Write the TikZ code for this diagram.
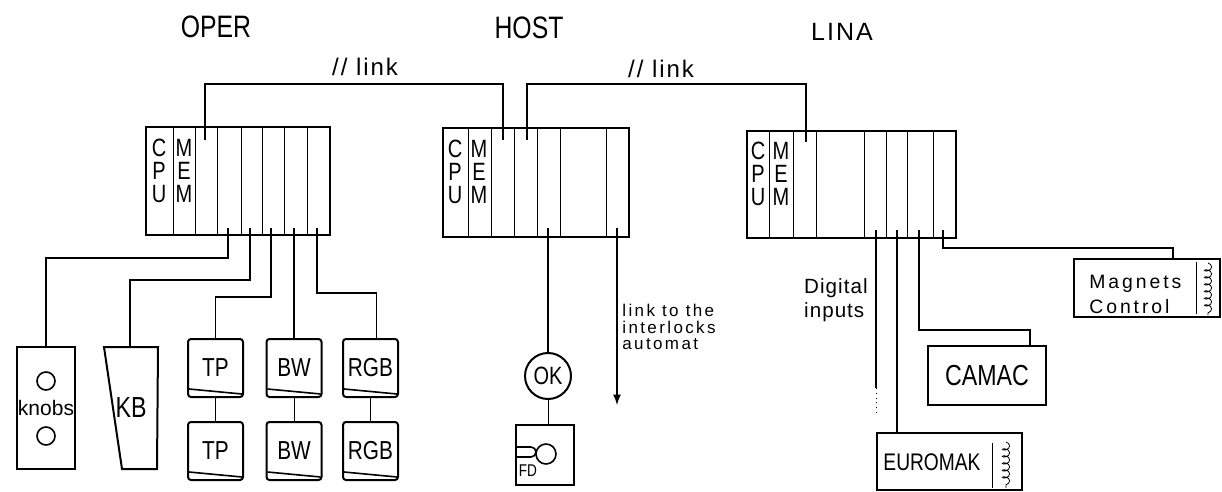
\documentclass[tikz,border=0pt]{standalone}
\usepackage{fontspec}
\setmainfont{Liberation Sans}
\newfontfamily\condfont{Liberation Sans}[FakeStretch=0.8]
\usetikzlibrary{decorations.pathmorphing}

\tikzset{
	ttl/.style={font=\condfont\fontsize{15.5}{18}\selectfont},
	linkl/.style={font=\fontsize{12}{14}\selectfont\addfontfeature{LetterSpace=8}},
	rackbox/.style={draw, line width=1pt},
	bus/.style={line width=1pt},
	wire/.style={line width=0.8pt},
	slotl/.style={align=center, inner sep=0pt, font=\condfont\fontsize{12.5}{11.5}\selectfont},
	devbox/.style={draw, line width=1pt, inner sep=0pt},
	monitor/.style={devbox, rounded corners=1.5pt, minimum width=27.5pt, minimum height=29pt,
		font=\condfont\fontsize{13}{15}\selectfont,
		path picture={\draw[line width=0.8pt] ([xshift=0.5pt,yshift=4pt]path picture bounding box.south west)
			.. controls ([yshift=2.5pt]path picture bounding box.south) .. ([xshift=-0.5pt,yshift=1.5pt]path picture bounding box.south east);}},
	coilmark/.style={decorate, decoration={coil, aspect=0.6, segment length=3.5pt, amplitude=1.8pt}}
}

\begin{document}
\begin{tikzpicture}[x=0.5pt, y=-0.5pt]
			\useasboundingbox (0,0) rectangle (1222,492); %picture size in pixels
			
			\node[ttl] (operT) at (216,27) {OPER};
			\node[ttl] (hostT) at (529,28) {HOST};
			\node[font=\fontsize{12.5}{14}\selectfont\addfontfeature{LetterSpace=8}] (linaT) at (842,32) {LINA};
			\node[linkl] (link1) at (365,67) {// link};
			\node[linkl] (link2) at (661,69) {// link};
			
			%the three racks with their slots
			\draw[rackbox] (146,127) rectangle (330,235); %OPER
			\foreach \x in {173,195,217,241,262,284,307}
				\draw[thin] (\x,127) -- (\x,235);
			\draw[rackbox] (443,128) rectangle (629,237); %HOST
			\foreach \x in {468,491,514,537,560,606}
				\draw[thin] (\x,128) -- (\x,237);
			\draw[rackbox] (747,131) rectangle (956,238); %LINA
			\foreach \x in {769,793,816,864,886,907,933}
				\draw[thin] (\x,131) -- (\x,238);
			
			\node[slotl] (opercpu) at (159,171) {C\\P\\U};
			\node[slotl] (opermem) at (184,171) {M\\E\\M};
			\node[slotl] (hostcpu) at (455,172) {C\\P\\U};
			\node[slotl] (hostmem) at (479,172) {M\\E\\M};
			\node[slotl] (linacpu) at (758,174) {C\\P\\U};
			\node[slotl] (linamem) at (781,174) {M\\E\\M};
			
			%tap points on the racks
			\coordinate (olk) at (205,140);
			\coordinate (hlka) at (503,140);
			\coordinate (hlkb) at (527,140);
			\coordinate (llk) at (806,142);
			\foreach \n/\x in {1/228,2/250,3/271,4/294,5/317}
				\coordinate (o\n) at (\x,228);
			\coordinate (h1) at (548,228);
			\coordinate (h2) at (617,228);
			\foreach \n/\x in {1/876,2/897,3/919,4/943}
				\coordinate (l\n) at (\x,230);
			
			\draw[bus] (olk) -- (205,84) -| (hlka); %// link OPER - HOST
			\draw[bus] (hlkb) -- (527,84) -| (llk); %// link HOST - LINA
			
			%OPER devices
			\node[devbox, minimum width=29pt, minimum height=61pt] (knobs) at (46,408) {};
			\draw[line width=0.8pt] (46,381) circle[radius=4.5pt];
			\draw[line width=0.8pt] (46,436) circle[radius=4.5pt];
			\node[font=\fontsize{10.5}{12}\selectfont] (knobsl) at (46,408) {knobs};
			\coordinate (kbtop) at (130,347);
			\draw[line width=1pt] (104,347) -- (158,347) -- (157,469) -- (122,469) -- cycle; %keyboard
			\node[font=\condfont\fontsize{14.5}{16}\selectfont] (kb) at (131,408) {KB};
			
			\node[monitor] (tp1) at (215.5,368) {TP};
			\node[monitor] (tp2) at (215.5,451) {TP};
			\node[monitor] (bw1) at (294,368) {BW};
			\node[monitor] (bw2) at (294,451) {BW};
			\node[monitor] (rgb1) at (370.5,368) {RGB};
			\node[monitor] (rgb2) at (370.5,451) {RGB};
			
			\draw[wire] (o1) -- (228,258) -| (knobs.north);
			\draw[wire] (o2) -- (250,280) -| (kbtop);
			\draw[wire] (o3) -- (271,297) -| (tp1.north);
			\draw[wire] (o4) -- (bw1.north);
			\draw[wire] (o5) -- (317,293) -| ([xshift=3pt]rgb1.north);
			\draw[thin] (tp1) -- (tp2);
			\draw[thin] (bw1) -- (bw2);
			\draw[thin] (rgb1) -- (rgb2);
			
			%HOST devices
			\node[devbox, circle, minimum size=23pt, font=\condfont\fontsize{12.5}{15}\selectfont] (ok) at (548,376) {OK};
			\node[devbox, minimum width=29pt, minimum height=30pt] (fd) at (545,455) {};
			\draw[line width=0.8pt] (516,447) -- (531,447) arc[start angle=90, end angle=-90, radius=2.5pt] -- (516,457);
			\draw[line width=0.8pt] (546,454) circle[radius=5pt];
			\node[font=\condfont\fontsize{8.5}{9}\selectfont] (fdl) at (528,471) {FD};
			\draw[wire] (h1) -- (ok);
			\draw[thin] (ok) -- (ok |- fd.north);
			
			\coordinate (ilend) at (617,405);
			\draw[wire, -latex] (h2) -- (ilend);
			\node[anchor=west, align=left, inner sep=0pt, font=\fontsize{8.5}{8.4}\selectfont\addfontfeature{LetterSpace=14}] (ilk) at (622,327)
				{link to the\\interlocks\\automat};
			
			%LINA devices
			\node[devbox, minimum width=72.5pt, minimum height=28.5pt] (euro) at (949.5,461.5) {};
			\node[font=\condfont\fontsize{12}{13}\selectfont] (eurol) at (932,462) {EUROMAK};
			\draw[thin] (992,443) -- (992,488);
			\draw[thin, coilmark] (1006,442) -- (1006,488);
			\node[devbox, minimum width=59pt, minimum height=29.5pt, font=\condfont\fontsize{14.5}{16}\selectfont] (camac) at (987,375.5) {CAMAC};
			\node[devbox, minimum width=73pt, minimum height=29pt] (magn) at (1147,288) {};
			\node[anchor=west, align=left, inner sep=0pt, font=\fontsize{9.7}{12.5}\selectfont\addfontfeature{LetterSpace=15}] (magnl) at (1089,294) {Magnets\\Control};
			\draw[thin] (1196,262) -- (1196,314);
			\draw[thin, coilmark] (1208,263) -- (1208,315);
			
			\coordinate (digend) at (876,388);
			\draw[wire] (l1) -- (digend);
			\draw[thin, dotted] (digend) -- ++(0,26); %more digital inputs
			\node[anchor=east, align=left, inner sep=0pt, font=\fontsize{10.3}{12}\selectfont\addfontfeature{LetterSpace=5}] (digl) at (868,300)
				{Digital\\inputs};
			\draw[wire] (l2) -- (l2 |- euro.north);
			\draw[wire] (l3) -- (919,330) -| ([xshift=21.5pt]camac.north);
			\draw[wire] (l4) -- (943,248) -| ([xshift=13pt]magn.north);
		\end{tikzpicture}
\end{document}
